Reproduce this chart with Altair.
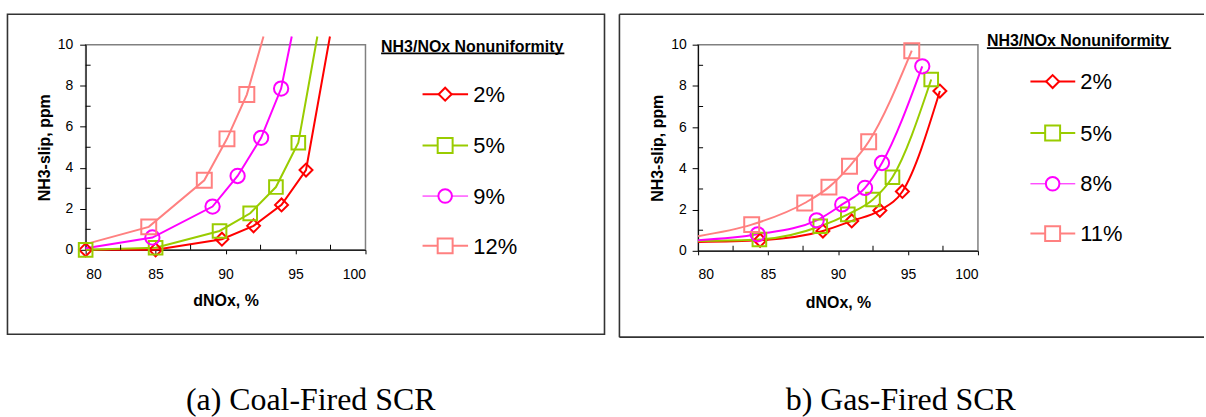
import altair as alt
import pandas as pd

FONT = "Liberation Sans"
SERIF = "Liberation Serif"

# axis definitions
x_domain = [80, 100]
y_domain = [0, 10]
x_ticks = [80, 85, 90, 95, 100]
x_minor = [82.5, 87.5, 92.5, 97.5]
y_ticks = [0, 2, 4, 6, 8, 10]
y_minor = [1, 3, 5, 7, 9]

legend_title = "NH3/NOx Nonuniformity"
captions = ["(a) Coal-Fired SCR", "b) Gas-Fired SCR"]

# (a) Coal-fired SCR
coal_labels = ["2%", "5%", "9%", "12%"]
coal_2_x = [80, 85, 89.74, 92.0, 94.0, 95.75, 97.46]
coal_2_y = [0, 0, 0.52, 1.17, 2.19, 3.89, 10.4]
coal_5_x = [80, 85, 89.57, 91.76, 93.6, 95.2, 96.56]
coal_5_y = [0, 0.1, 0.92, 1.78, 3.06, 5.22, 10.4]
coal_9_x = [80, 84.77, 89.07, 90.86, 92.54, 93.97, 94.73]
coal_9_y = [0.08, 0.6, 2.11, 3.6, 5.46, 7.86, 10.4]
coal_12_x = [80, 84.51, 88.48, 90.1, 91.52, 92.71]
coal_12_y = [0.28, 1.12, 3.39, 5.41, 7.57, 10.4]

# (b) Gas-fired SCR
gas_labels = ["2%", "5%", "8%", "11%"]
gas_2_x = [80, 84.43, 88.92, 90.98, 92.99, 94.6, 97.28]
gas_2_y = [0.43, 0.51, 0.96, 1.45, 1.96, 2.88, 7.75]
gas_5_x = [80, 84.38, 88.73, 90.7, 92.5, 93.89, 96.66]
gas_5_y = [0.48, 0.55, 1.19, 1.77, 2.49, 3.57, 8.31]
gas_8_x = [80, 84.26, 88.47, 90.3, 91.93, 93.14, 96.02]
gas_8_y = [0.51, 0.80, 1.48, 2.25, 3.05, 4.26, 8.95]
gas_11_x = [80, 83.83, 87.62, 89.35, 90.82, 92.19, 95.27]
gas_11_y = [0.71, 1.27, 2.32, 3.09, 4.10, 5.29, 9.71]

colors = ["#FF0000", "#99CC00", "#FF00FF", "#FF8080"]
shapes = ["diamond", "square", "circle", "square"]
sizes = [169, 225, 185, 225]
widths = [2, 2, 1, 2]


def make_df(labels, xs, ys):
    rows = []
    for lab, xv, yv in zip(labels, xs, ys):
        for a, b in zip(xv, yv):
            rows.append({"x": a, "y": b, "s": lab})
    return pd.DataFrame(rows)


coal_df = make_df(coal_labels, [coal_2_x, coal_5_x, coal_9_x, coal_12_x],
                  [coal_2_y, coal_5_y, coal_9_y, coal_12_y])
gas_df = make_df(gas_labels, [gas_2_x, gas_5_x, gas_8_x, gas_11_x],
                 [gas_2_y, gas_5_y, gas_8_y, gas_11_y])

ONE = pd.DataFrame({"k": [0]})


def panel(df, labels, caption, g):
    W, H = 281, g["H"]
    xs = alt.Scale(domain=x_domain, nice=False, zero=False)
    ys = alt.Scale(domain=y_domain, nice=False)
    xaxis = alt.Axis(values=x_ticks, title="dNOx, %", format="d", grid=False,
                     labelFont=FONT, labelFontSize=14, labelColor="black",
                     labelPadding=g["xlabpad"], tickSize=4, tickColor="black",
                     domainColor="black", titleFont=FONT, titleFontSize=16,
                     titleFontWeight="bold", titleColor="black",
                     titleBaseline="alphabetic", titleY=g["xtitleY"], titleX=W / 2)
    yaxis = alt.Axis(values=y_ticks, title="NH3-slip, ppm", grid=False,
                     labelFont=FONT, labelFontSize=14, labelColor="black",
                     labelPadding=g["ylabpad"], tickSize=6, tickColor="black",
                     domainColor="black", titleFont=FONT, titleFontSize=16,
                     titleFontWeight="bold", titleColor="black", titleAngle=270,
                     titleBaseline="alphabetic", titleAlign="center",
                     titleX=-36, titleY=H / 2)
    X = alt.X("x:Q", scale=xs, axis=xaxis)
    Y = alt.Y("y:Q", scale=ys, axis=yaxis)
    col = alt.Color("s:N", scale=alt.Scale(domain=labels, range=colors), legend=None)

    line = alt.Chart(df).mark_line(interpolate=g["interp"], clip=False).encode(
        x=X, y=Y, color=col,
        strokeWidth=alt.StrokeWidth("s:N", scale=alt.Scale(domain=labels, range=widths), legend=None),
    )
    pts = alt.Chart(df).transform_filter(
        "datum.y <= 10 && (datum.x > 80 || datum.y == 0)"
    ).mark_point(filled=False, strokeWidth=2, opacity=1).encode(
        x=X, y=Y, color=col,
        shape=alt.Shape("s:N", scale=alt.Scale(domain=labels, range=shapes), legend=None),
        size=alt.Size("s:N", scale=alt.Scale(domain=labels, range=sizes), legend=None),
    )
    ymin = alt.Chart(pd.DataFrame({"y": y_minor})).mark_tick(
        orient="horizontal", size=5, thickness=1, color="black", opacity=1
    ).encode(y=Y, x=alt.value(2.5))
    xmin = alt.Chart(pd.DataFrame({"x": x_minor})).mark_tick(
        orient="vertical", size=5, thickness=1, color="black", opacity=1
    ).encode(x=X, y=alt.value(H - 2.5))

    layers = [line, pts, ymin, xmin]

    # frame around the panel
    fx0, fx1, fy0, fy1 = g["frame"]
    if g["closed"]:
        layers.append(alt.Chart(ONE).mark_rect(fillOpacity=0, stroke="#333333", strokeWidth=1.6).encode(
            x=alt.value(fx0), x2=alt.value(fx1), y=alt.value(fy0), y2=alt.value(fy1)))
    else:
        for enc in [dict(x=alt.value(fx0), x2=alt.value(fx1), y=alt.value(fy0)),
                    dict(x=alt.value(fx0), x2=alt.value(fx1), y=alt.value(fy1)),
                    dict(x=alt.value(fx0), y=alt.value(fy0), y2=alt.value(fy1))]:
            layers.append(alt.Chart(ONE).mark_rule(color="#333333", strokeWidth=1.6).encode(**enc))

    # invisible extent markers (define the panel's layout box)
    ex0, ex1 = g["extent"]
    for ex in (ex0, ex1):
        layers.append(alt.Chart(ONE).mark_rule(opacity=0, strokeOpacity=0).encode(
            x=alt.value(ex), y=alt.value(-43), y2=alt.value(374)))

    # legend
    lt_x, lt_y, ul_y, ul_x1 = g["ltitle"]
    layers.append(alt.Chart(ONE).mark_text(font=FONT, fontSize=16, fontWeight="bold",
                                           align="left", baseline="alphabetic", color="black").encode(
        x=alt.value(lt_x), y=alt.value(lt_y), text=alt.value(legend_title)))
    layers.append(alt.Chart(ONE).mark_rule(color="black", strokeWidth=1.6).encode(
        x=alt.value(lt_x), x2=alt.value(ul_x1), y=alt.value(ul_y)))
    lx0, lx1, lc, ltx = g["lx"]
    for i, (lab, ry) in enumerate(zip(labels, g["rows"])):
        layers.append(alt.Chart(ONE).mark_rule(color=colors[i], strokeWidth=widths[i]).encode(
            x=alt.value(lx0), x2=alt.value(lx1), y=alt.value(ry)))
        layers.append(alt.Chart(ONE).mark_point(shape=shapes[i], size=sizes[i], filled=True,
                                                fill="white", stroke=colors[i], strokeWidth=2,
                                                opacity=1).encode(
            x=alt.value(lc), y=alt.value(ry)))
        layers.append(alt.Chart(ONE).mark_text(font=FONT, fontSize=22, align="left",
                                               baseline="alphabetic", color="black").encode(
            x=alt.value(ltx), y=alt.value(ry + 7.7), text=alt.value(lab)))

    # caption
    layers.append(alt.Chart(ONE).mark_text(font=SERIF, fontSize=32, align="center",
                                           baseline="alphabetic", color="black").encode(
        x=alt.value(g["cap_x"]), y=alt.value(367), text=alt.value(caption)))

    return alt.layer(*layers).properties(width=W, height=H)


left = panel(coal_df, coal_labels, captions[0], dict(
    H=206, xlabpad=14, xtitleY=56, ylabpad=7, interp="linear",
    frame=(-78.5, 521, -30.5, 290.7), closed=True, extent=(-85, 524),
    ltitle=(296.7, 7, 8.7, 480.7), lx=(338.3, 384, 361, 389.3),
    rows=[49.7, 101.3, 152, 202], cap_x=226))

right = panel(gas_df, gas_labels, captions[1], dict(
    H=207, xlabpad=13, xtitleY=57, ylabpad=6, interp="monotone",
    frame=(-79, 508, -30.5, 293.7), closed=False, extent=(-89, 508),
    ltitle=(290, 1, 3.5, 475), lx=(333.7, 378.7, 356, 383.7),
    rows=[37, 88.7, 139.7, 189.7], cap_x=203.5))

chart = alt.hconcat(left, right, spacing=0, bounds="full").resolve_scale(
    color="independent", shape="independent", size="independent",
    strokeWidth="independent", x="independent", y="independent"
).configure_view(
    stroke="#808080", strokeWidth=1.5
).configure_axis(
    labelFontSize=14, labelFont=FONT, labelColor="black"
).properties(padding=0)

chart.save("out.html", embed_options={"renderer": "svg", "actions": False})
